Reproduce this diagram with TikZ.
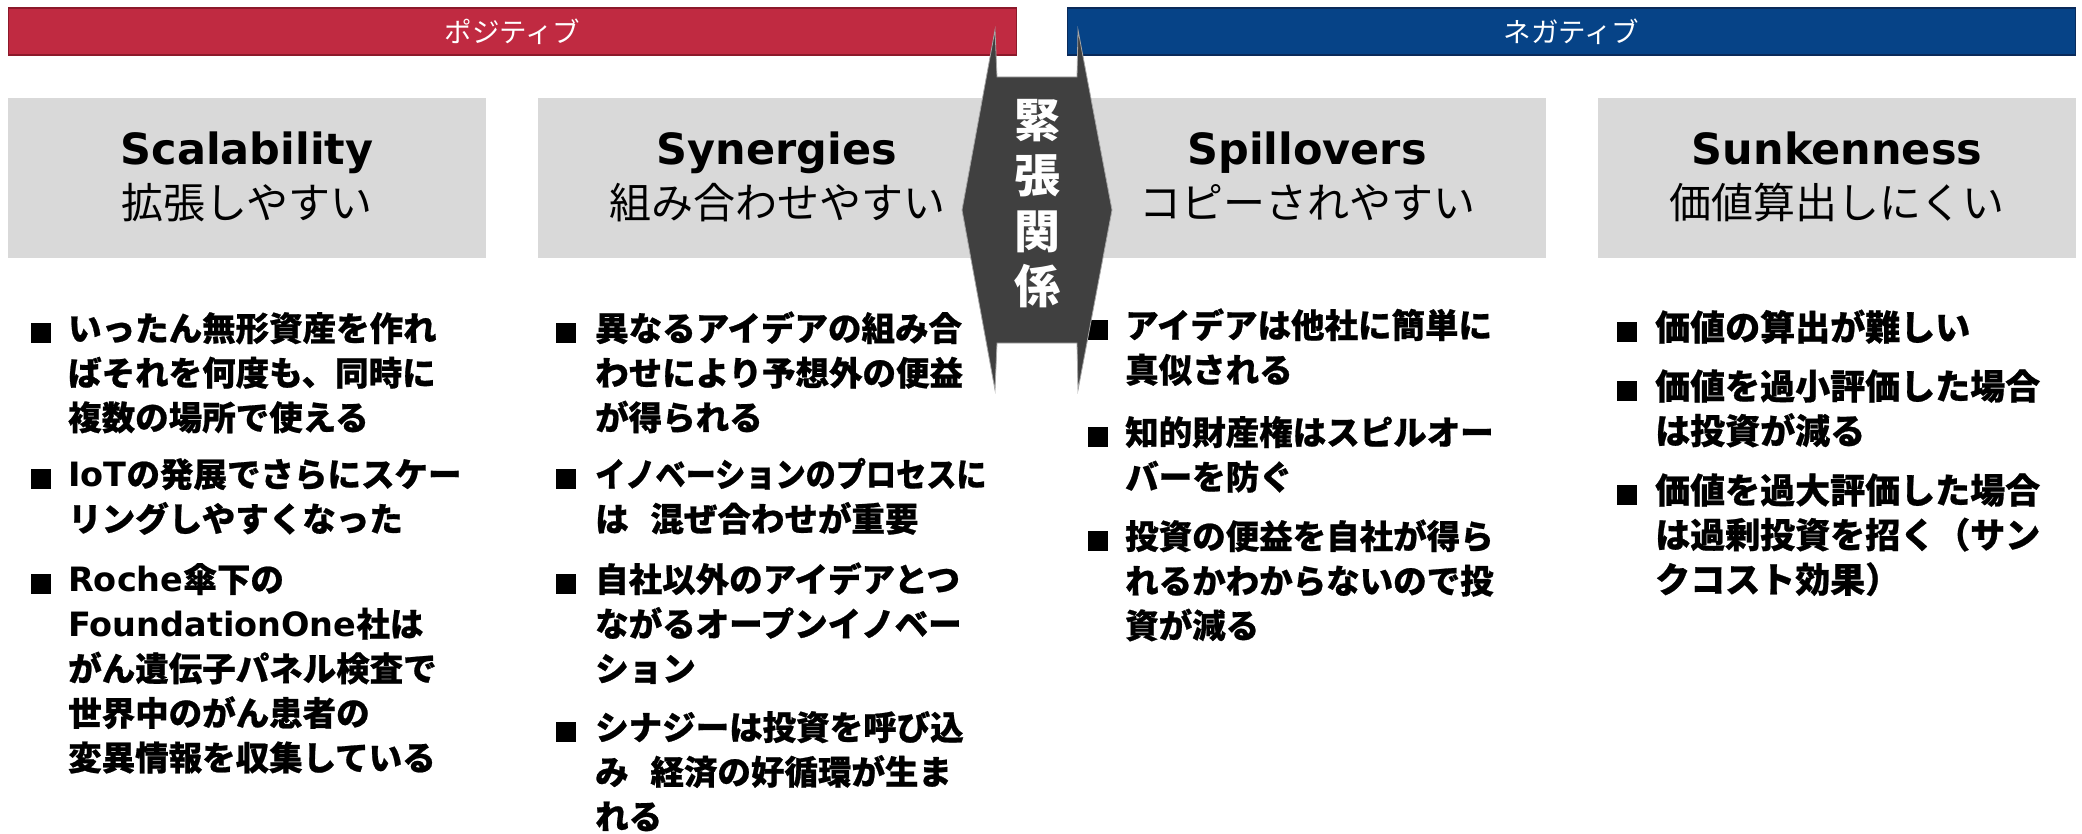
\documentclass[tikz,border=0pt]{standalone}
\usepackage{fontspec}
\setmainfont{Noto Sans CJK JP}
\newfontfamily\jpheavy{Noto Sans CJK JP}[BoldFeatures={FakeBold=0.7}]
\newfontfamily\lat{DejaVu Sans}
\definecolor{posred}{RGB}{192,42,65}
\definecolor{posredD}{RGB}{140,25,42}
\definecolor{negblue}{RGB}{6,67,135}
\definecolor{negblueD}{RGB}{10,42,90}
\definecolor{boxgray}{RGB}{217,217,217}
\definecolor{tension}{RGB}{64,64,64}
\newcommand\fl{\rule{0pt}{0.9em}}
\begin{document}
\begin{tikzpicture}[x=1pt,y=-1pt,
  bar/.style={minimum height=47pt, minimum width=1008pt, inner sep=0pt, text=white,
    font=\fontsize{27.5}{30}\selectfont, line width=1.2pt},
  gbox/.style={fill=boxgray, minimum width=478pt, minimum height=160pt, inner sep=0pt},
  ttl/.style={font=\lat\bfseries\fontsize{43}{48}\selectfont, anchor=base, inner sep=0pt},
  sub/.style={font=\fontsize{42}{48}\selectfont, anchor=base, inner sep=0pt},
  para/.style={font=\jpheavy\bfseries\fontsize{33.5}{44.6}\selectfont, align=left, anchor=north west, inner sep=0pt},
  parab/.style={para, font=\jpheavy\bfseries\fontsize{35}{44.6}\selectfont},
  sq/.style={fill=black, minimum size=20pt, inner sep=0pt},
  tens/.style={fill=tension, draw=gray!70, line width=0.8pt},
  tenstxt/.style={text=white, font=\bfseries\fontsize{46}{55.5}\selectfont, align=center, inner sep=0pt}]
\useasboundingbox (0,0) rectangle (2082,834);

% top bars
\node[bar, fill=posred, draw=posredD] (pos) at (512.5,31.5) {ポジティブ};
\node[bar, fill=negblue, draw=negblueD] (neg) at (1571.5,31.5) {ネガティブ};

% header boxes
\node[gbox] (b1) at (247,178.5) {};
\node[gbox] (b2) at (777,178.5) {};
\node[gbox] (b3) at (1307,178.5) {};
\node[gbox] (b4) at (1837,178.5) {};

\node[ttl] (t1) at (247,165) {Scalability};
\node[sub] (s1) at (247,219) {拡張しやすい};
\node[ttl] (t2) at (777,165) {Synergies};
\node[sub] (s2) at (777,219) {組み合わせやすい};
\node[ttl] (t3) at (1307,165) {Spillovers};
\node[sub] (s3) at (1307,219) {コピーされやすい};
\node[ttl] (t4) at (1837,165) {Sunkenness};
\node[sub] (s4) at (1837,219) {価値算出しにくい};

% column 1
\node[sq] (q11) at (41,333) {};
\node[para] (p11) at (68,310.5) {\fl いったん無形資産を作れ\\ばそれを何度も、同時に\\複数の場所で使える};
\node[sq] (q12) at (41,479) {};
\node[para] (p12) at (68,456.5) {\fl{\lat\bfseries IoT}の発展でさらにスケー\\リングしやすくなった};
\node[sq] (q13) at (41,584) {};
\node[para] (p13) at (68,561.5) {\fl{\lat\bfseries Roche}傘下の\\{\lat\bfseries FoundationOne}社は\\がん遺伝子パネル検査で\\世界中のがん患者の\\変異情報を収集している};

% column 2
\node[sq] (q21) at (566,333) {};
\node[para] (p21) at (595,310.5) {\fl 異なるアイデアの組み合\\わせにより予想外の便益\\が得られる};
\node[sq] (q22) at (566,479) {};
\node[para] (p22) at (595,456.5) {\fl\scalebox{0.9}[1]{イノベーションのプロセスに}\\は\hspace{0.65em}混ぜ合わせが重要};
\node[sq] (q23) at (566,584) {};
\node[para] (p23) at (595,561.5) {\fl 自社以外のアイデアとつ\\ながるオープンイノベー\\ション};
\node[sq] (q24) at (566,732) {};
\node[para] (p24) at (595,709.5) {\fl シナジーは投資を呼び込\\み\hspace{0.65em}経済の好循環が生ま\\れる};

% column 3
\node[sq] (q31) at (1098,330) {};
\node[para] (p31) at (1125,307.5) {\fl アイデアは他社に簡単に\\真似される};
\node[sq] (q32) at (1098,437) {};
\node[para] (p32) at (1125,414.5) {\fl 知的財産権はスピルオー\\バーを防ぐ};
\node[sq] (q33) at (1098,541) {};
\node[para] (p33) at (1125,518.5) {\fl 投資の便益を自社が得ら\\れるかわからないので投\\資が減る};

% column 4
\node[sq] (q41) at (1627,332) {};
\node[parab] (p41) at (1655,308.6) {\fl 価値の算出が難しい};
\node[sq] (q42) at (1627,391) {};
\node[parab] (p42) at (1655,367.6) {\fl 価値を過小評価した場合\\は投資が減る};
\node[sq] (q43) at (1627,495) {};
\node[parab] (p43) at (1655,471.6) {\fl 価値を過大評価した場合\\は過剰投資を招く（サン\\クコスト効果）};

% tension shape
\draw[tens] (995,30) -- (997,77) -- (1077,77) -- (1078,30) -- (1112,210)
  -- (1078,390) -- (1077,343) -- (997,343) -- (995,390) -- (962,210) -- cycle;
\node[tenstxt] (tt) at (1037,203.5) {緊\\張\\関\\係};
\end{tikzpicture}
\end{document}
